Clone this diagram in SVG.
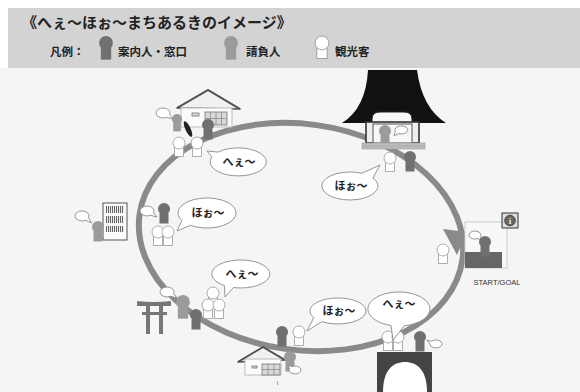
<svg xmlns="http://www.w3.org/2000/svg" width="580" height="392" viewBox="0 0 580 392">
<defs>
<style>
.jp{font-family:'Noto Sans CJK JP','Noto Sans CJK SC',sans-serif;font-weight:bold;fill:#222}
.bub{fill:#fff;stroke:#8a8a8a;stroke-width:0.9}
.bt{font-size:11px;text-anchor:middle}
.roof{fill:#f1f1f1;stroke:#555;stroke-width:1.5;stroke-linejoin:round}
.wall{fill:#fbfbfb;stroke:#bdbdbd;stroke-width:1}
.win{fill:#d8d8d8;stroke:#777;stroke-width:0.8}
</style>
<g id="guide"><circle r="6" fill="#707070"/><rect x="-4.5" y="4.5" width="9" height="10" fill="#707070"/></g>
<g id="worker"><circle r="6" fill="#9b9b9b"/><rect x="-4.5" y="4.5" width="9" height="10" fill="#9b9b9b"/></g>
<g id="tourist"><rect x="-4.5" y="4.5" width="9" height="9" fill="#fff" stroke="#999" stroke-width="0.8"/><circle r="6" fill="#fff" stroke="#999" stroke-width="0.8"/></g>
<pattern id="stripes" width="2" height="4" patternUnits="userSpaceOnUse"><rect width="1.1" height="4" fill="#666"/></pattern>
</defs>

<!-- background and header -->
<rect width="580" height="392" fill="#fff"/>
<rect x="0" y="68" width="580" height="324" fill="#f5f5f5"/>
<rect x="8" y="8" width="572" height="60" fill="#d3d3d3"/>
<text class="jp" x="22" y="28" font-size="15">《へぇ～ほぉ～まちあるきのイメージ》</text>

<g id="legend">
  <text class="jp" x="50" y="56" font-size="11.5">凡例：</text>
  <use href="#guide" transform="translate(106 43) scale(1.15)"/>
  <text class="jp" x="118" y="56" font-size="11.5">案内人・窓口</text>
  <use href="#worker" transform="translate(231 43) scale(1.15)"/>
  <text class="jp" x="246" y="56" font-size="11.5">請負人</text>
  <use href="#tourist" transform="translate(322 43) scale(1.15)"/>
  <text class="jp" x="335" y="56" font-size="11.5">観光客</text>
</g>

<!-- walking loop -->
<g id="connectors">
  <ellipse cx="301" cy="237" rx="163" ry="113" transform="rotate(8 301 237)" fill="none" stroke="#8a8a8a" stroke-width="6"/>
  <polygon points="443,229 467,232 457,255" fill="#8a8a8a"/>
</g>

<!-- house, upper left -->
<g id="house-north">
  <path class="roof" d="M177 108 L208 90 L240 109 Z"/>
  <rect class="wall" x="181" y="108" width="51" height="19"/>
  <path d="M177 108 L208 90 L240 109" fill="none" stroke="#555" stroke-width="1.6"/>
  <rect class="win" x="192" y="113" width="7" height="3"/>
  <rect class="win" x="205" y="112" width="22" height="13"/>
  <path d="M210.5 112v13M216 112v13M221.5 112v13M205 118.5h22" stroke="#777" stroke-width="0.6"/>
  <ellipse cx="188" cy="129" rx="2.6" ry="8.5" transform="rotate(-25 188 129)" fill="#222"/>
  <path class="bub" d="M169.6 114.7 L173 119 L166.5 117.3 A7 5 0 1 1 169.6 114.7 Z"/>
  <use href="#worker" transform="translate(177 119) scale(0.85)"/>
  <use href="#guide" x="208" y="125"/>
  <use href="#tourist" x="179" y="143"/>
  <use href="#tourist" x="197" y="143"/>
</g>

<!-- temple, upper right -->
<g id="temple">
  <path d="M368 70 L417 70 Q422 108 446 123 L342 123 Q366 108 368 70 Z" fill="#111"/>
  <path d="M372 124 L372 119 Q372 112 380 112 L404 112 Q412 112 412 119 L412 124 Z" fill="#f7f7f7" stroke="#222" stroke-width="1"/>
  <rect x="366" y="122" width="53" height="21" fill="#eee" stroke="#333" stroke-width="1.6"/>
  <rect x="373" y="124" width="39" height="19" fill="#f7f7f7" stroke="#555" stroke-width="1"/>
  <use href="#worker" x="385" y="131"/>
  <path class="bub" d="M398.5 133.5 L394 136 L395.4 131.5 A6.5 4 0 1 1 398.5 133.5 Z"/>
  <rect x="362" y="143" width="63" height="6" fill="#bcbcbc" stroke="#999" stroke-width="0.6"/>
  <path d="M362 146h63" stroke="#999" stroke-width="0.5"/>
  <use href="#tourist" x="390" y="158"/>
  <use href="#guide" x="410" y="157"/>
</g>

<!-- shelf building, left -->
<g id="shelf">
  <rect x="103" y="203" width="24" height="37" fill="#fafafa" stroke="#555" stroke-width="1"/>
  <rect x="106" y="206" width="18" height="7" fill="url(#stripes)"/>
  <rect x="106" y="216" width="18" height="7" fill="url(#stripes)"/>
  <rect x="106" y="226" width="18" height="6" fill="url(#stripes)"/>
  <path class="bub" d="M88.6 217.7 L91.5 223 L85.5 220.3 A7 5 0 1 1 88.6 217.7 Z"/>
  <use href="#worker" x="98" y="227"/>
</g>

<g id="group-west">
  <path class="bub" d="M153.6 212.7 L157 217 L150.5 215.3 A7 5 0 1 1 153.6 212.7 Z"/>
  <use href="#guide" x="164" y="209"/>
  <use href="#tourist" x="158" y="232"/>
  <use href="#tourist" x="168" y="232"/>
</g>

<!-- start / goal -->
<g id="start-goal">
  <rect x="465" y="222" width="42" height="46" fill="#f8f8f8" stroke="#ccc" stroke-width="1"/>
  <rect x="465" y="252" width="37" height="16" fill="#666"/>
  <path class="bub" d="M480.6 236.4 L482 241 L478 238.5 A6 4 0 1 1 480.6 236.4 Z"/>
  <use href="#guide" x="485" y="242"/>
  <rect x="502" y="213" width="16" height="15" fill="#ddd" stroke="#333" stroke-width="1"/>
  <circle cx="510" cy="220.5" r="5.3" fill="#666" stroke="#333" stroke-width="0.8"/>
  <text x="510" y="224" font-family="'Liberation Serif',serif" font-weight="bold" font-size="9" fill="#eee" text-anchor="middle">i</text>
  <text x="497" y="285" font-family="'Liberation Sans',sans-serif" font-size="7.5" fill="#333" text-anchor="middle">START/GOAL</text>
  <use href="#tourist" x="443" y="250"/>
</g>

<!-- torii, lower left -->
<g id="torii">
  <path d="M137 301 Q154 303 171 301 L171 306 L137 306 Z" fill="#777"/>
  <rect x="142" y="312" width="25" height="3" fill="#777"/>
  <rect x="146" y="306" width="4" height="28" fill="#777"/>
  <rect x="159" y="306" width="4" height="28" fill="#777"/>
  <path class="bub" d="M173.6 293.7 L177 298 L170.5 296.3 A7 5 0 1 1 173.6 293.7 Z"/>
  <use href="#worker" transform="translate(183 302) scale(1.15)"/>
  <use href="#guide" x="196" y="315"/>
  <use href="#tourist" x="213" y="293"/>
  <use href="#tourist" x="208" y="305"/>
  <use href="#tourist" x="219" y="305"/>
</g>

<!-- house, bottom -->
<g id="house-south">
  <path class="roof" d="M238 362 L263 347 L285 360 Z"/>
  <rect class="wall" x="245" y="359" width="36" height="16"/>
  <path d="M238 362 L263 347 L285 360" fill="none" stroke="#555" stroke-width="1.5"/>
  <rect class="win" x="252" y="366" width="5" height="2"/>
  <rect class="win" x="262" y="364" width="18" height="11"/>
  <path d="M268 364v11M274 364v11M262 369.5h18" stroke="#777" stroke-width="0.6"/>
  <path d="M277 381 l1 4" stroke="#888" stroke-width="0.8"/>
  <use href="#guide" x="282" y="332"/>
  <use href="#tourist" x="299" y="332"/>
  <use href="#worker" x="290" y="357"/>
  <path class="bub" d="M289.4 368.6 L288 365.5 L292 366.5 A6 4 0 1 1 289.4 368.6 Z"/>
</g>

<!-- dark gate, bottom right -->
<g id="gate">
  <rect x="377" y="352" width="55" height="40" fill="#444"/>
  <path d="M383 392 C383 370 393 362 405 362 C417 362 427 370 427 392 Z" fill="#fff"/>
  <use href="#tourist" x="388" y="337"/>
  <use href="#tourist" x="398" y="337"/>
  <use href="#guide" x="420" y="337"/>
  <path class="bub" d="M430 344 L427 340 L431.4 341.4 A6 4 0 1 1 430 344 Z"/>
</g>

<!-- speech bubbles -->
<g id="bubbles">
  <path class="bub" d="M212 157 L207 151 L218.2 152.1 A28 14 0 1 1 212 157 Z"/>
  <text class="jp bt" x="239" y="166">へぇ～</text>
  <path class="bub" d="M190.4 225.3 L177 231 L181.9 220.5 A29 15 0 1 1 190.4 225.3 Z"/>
  <text class="jp bt" x="208" y="217">ほぉ～</text>
  <path class="bub" d="M361.8 173.3 L380 165 L372.9 178 A28 14 0 1 1 361.8 173.3 Z"/>
  <text class="jp bt" x="351" y="190">ほぉ～</text>
  <path class="bub" d="M233.5 287.5 L225 297 L224.4 285.5 A29 14 0 1 1 233.5 287.5 Z"/>
  <text class="jp bt" x="242" y="278">へぇ～</text>
  <path class="bub" d="M321.9 321.6 L307 331 L313.8 317.5 A28 13 0 1 1 321.9 321.6 Z"/>
  <text class="jp bt" x="339" y="315">ほぉ～</text>
  <path class="bub" d="M404.4 325.7 L393 340 L391 325.4 A31 17 0 1 1 404.4 325.7 Z"/>
  <text class="jp bt" x="399" y="308">へぇ～</text>
</g>
</svg>
